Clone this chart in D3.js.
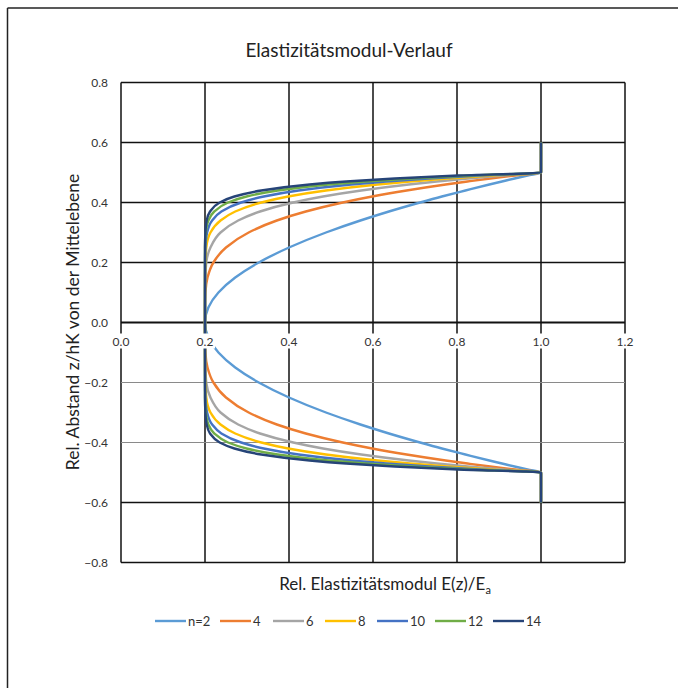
<!DOCTYPE html>
<html><head><meta charset="utf-8">
<script src="https://cdn.jsdelivr.net/npm/d3@7"></script>
<style>body{margin:0;background:#fff}svg{display:block}text{font-family:Lato,"Open Sans",sans-serif}</style>
</head><body><svg id="c" width="678" height="688"></svg>
<script>
const title = "Elastizitätsmodul-Verlauf";
const seriesNames = ["n=2","4","6","8","10","12","14"];
const seriesColors = ["#5B9BD5","#ED7D31","#A5A5A5","#FFC000","#4472C4","#70AD47","#264478"];
const xTicks = [0,0.2,0.4,0.6,0.8,1.0,1.2];
const yTicks = [0.8,0.6,0.4,0.2,0.0,-0.2,-0.4,-0.6,-0.8];
const zLevels = [-0.6,-0.5,-0.49,-0.48,-0.47,-0.46,-0.44,-0.42,-0.4,-0.37,-0.34,-0.3,-0.25,-0.2,-0.15,-0.1,-0.05,0,0.05,0.1,0.15,0.2,0.25,0.3,0.34,0.37,0.4,0.42,0.44,0.46,0.47,0.48,0.49,0.5,0.6];
const eN2 = [1,1,0.968,0.937,0.907,0.877,0.82,0.764,0.712,0.638,0.57,0.488,0.4,0.328,0.272,0.232,0.208,0.2,0.208,0.232,0.272,0.328,0.4,0.488,0.57,0.638,0.712,0.764,0.82,0.877,0.907,0.937,0.968,1,1];
const eN4 = [1,1,0.938,0.879,0.825,0.773,0.68,0.598,0.528,0.44,0.371,0.304,0.25,0.22,0.206,0.201,0.2,0.2,0.2,0.201,0.206,0.22,0.25,0.304,0.371,0.44,0.528,0.598,0.68,0.773,0.825,0.879,0.938,1,1];
const eN6 = [1,1,0.909,0.826,0.752,0.685,0.572,0.481,0.41,0.331,0.279,0.237,0.213,0.203,0.201,0.2,0.2,0.2,0.2,0.2,0.201,0.203,0.213,0.237,0.279,0.331,0.41,0.481,0.572,0.685,0.752,0.826,0.909,1,1];
const eN8 = [1,1,0.881,0.777,0.688,0.611,0.488,0.398,0.334,0.272,0.237,0.213,0.203,0.201,0.2,0.2,0.2,0.2,0.2,0.2,0.2,0.201,0.203,0.213,0.237,0.272,0.334,0.398,0.488,0.611,0.688,0.777,0.881,1,1];
const eN10 = [1,1,0.854,0.732,0.631,0.548,0.423,0.34,0.286,0.239,0.217,0.205,0.201,0.2,0.2,0.2,0.2,0.2,0.2,0.2,0.2,0.2,0.201,0.205,0.217,0.239,0.286,0.34,0.423,0.548,0.631,0.732,0.854,1,1];
const eN12 = [1,1,0.828,0.69,0.581,0.494,0.373,0.299,0.255,0.222,0.208,0.202,0.2,0.2,0.2,0.2,0.2,0.2,0.2,0.2,0.2,0.2,0.2,0.202,0.208,0.222,0.255,0.299,0.373,0.494,0.581,0.69,0.828,1,1];
const eN14 = [1,1,0.803,0.652,0.536,0.449,0.334,0.27,0.235,0.212,0.204,0.201,0.2,0.2,0.2,0.2,0.2,0.2,0.2,0.2,0.2,0.2,0.2,0.201,0.204,0.212,0.235,0.27,0.334,0.449,0.536,0.652,0.803,1,1];
const seriesValues = [eN2,eN4,eN6,eN8,eN10,eN12,eN14];

const svg = d3.select("#c");
const L=121, R=625, T=82.5, B=562.5;
const x = d3.scaleLinear().domain([0,1.2]).range([L,R]);
const y = d3.scaleLinear().domain([-0.8,0.8]).range([B,T]);

// outer frame (top & left)
svg.append("line").attr("x1",7.5).attr("x2",678).attr("y1",8).attr("y2",8).attr("stroke","#222").attr("stroke-width",1.5);
svg.append("line").attr("x1",7.5).attr("x2",7.5).attr("y1",8).attr("y2",688).attr("stroke","#222").attr("stroke-width",1.5);

svg.append("text").attr("x",349).attr("y",57).attr("text-anchor","middle").attr("font-size",19).attr("fill","#222").text(title);

// gridlines
const g = svg.append("g");
g.selectAll(".vg").data(xTicks).join("line")
  .attr("x1",d=>x(d)).attr("x2",d=>x(d)).attr("y1",T).attr("y2",B)
  .attr("stroke","#111").attr("stroke-width",1.5);
g.selectAll(".hg").data(yTicks).join("line")
  .attr("x1",L).attr("x2",R).attr("y1",d=>y(d)).attr("y2",d=>y(d))
  .attr("stroke",d=>(d===-0.2||d===-0.4)?"#8a8a8a":"#111")
  .attr("stroke-width",d=>d===0?2:((d===-0.2||d===-0.4)?1.2:1.5));

// y tick labels
svg.append("g").selectAll("text").data(yTicks).join("text")
  .attr("x",108).attr("y",d=>y(d)+4).attr("text-anchor","end")
  .attr("font-size",12).attr("fill","#333").text(d=>d3.format(".1f")(d));

// series
const line = d3.line().x(d=>x(d[0])).y(d=>y(d[1])).curve(d3.curveMonotoneY);
seriesValues.forEach((vals,i)=>{
  const pts = vals.map((v,j)=>[v,zLevels[j]]);
  svg.append("path").attr("d",line(pts)).attr("fill","none")
    .attr("stroke",seriesColors[i]).attr("stroke-width",2.4).attr("stroke-linejoin","round");
});

// x tick labels with white background
const xl = svg.append("g").selectAll("g").data(xTicks).join("g");
xl.append("rect").attr("x",d=>x(d)-10).attr("y",y(0)+11).attr("width",20).attr("height",15).attr("fill","#fff");
xl.append("text").attr("x",d=>x(d)).attr("y",y(0)+23).attr("text-anchor","middle")
  .attr("font-size",12).attr("fill","#333").text(d=>d3.format(".1f")(d));

// axis titles
svg.append("text").attr("transform","translate(79,322) rotate(-90)").attr("text-anchor","middle")
  .attr("font-size",17.5).attr("fill","#222").text("Rel. Abstand z/hK von der Mittelebene");
const xt = svg.append("text").attr("x",385).attr("y",590).attr("text-anchor","middle").attr("font-size",17).attr("fill","#222");
xt.append("tspan").text("Rel. Elastizitätsmodul E(z)/E");
xt.append("tspan").attr("font-size",11).attr("dy",4).text("a");

// legend
const legX = [155,220,273,325,377,435,493];
const lg = svg.append("g");
seriesNames.forEach((n,i)=>{
  lg.append("line").attr("x1",legX[i]).attr("x2",legX[i]+31).attr("y1",621).attr("y2",621)
    .attr("stroke",seriesColors[i]).attr("stroke-width",2.4);
  lg.append("text").attr("x",legX[i]+33).attr("y",625.5).attr("font-size",13).attr("fill","#333").text(n);
});
</script></body></html>
